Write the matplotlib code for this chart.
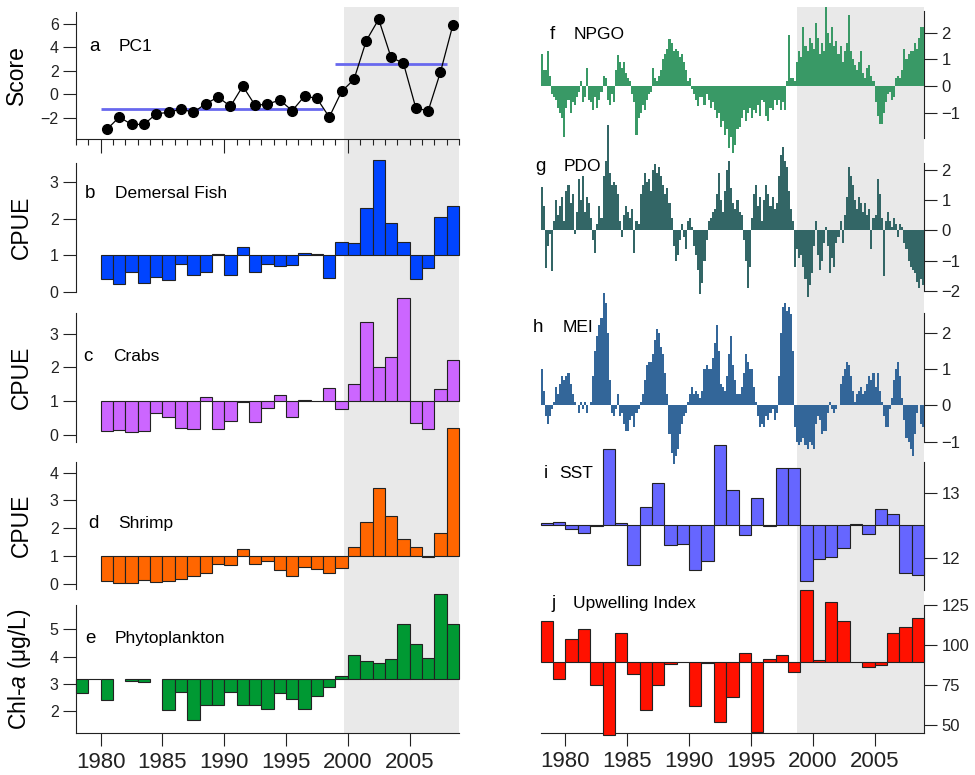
import numpy as np
import matplotlib
import matplotlib.pyplot as plt
import matplotlib.transforms as mtransforms
from matplotlib.patches import Rectangle

plt.rcParams['font.family'] = ['Liberation Sans', 'DejaVu Sans']
plt.rcParams['mathtext.fontset'] = 'custom'
plt.rcParams['mathtext.it'] = 'Liberation Sans:italic'
plt.rcParams['mathtext.rm'] = 'Liberation Sans'

# ---------------- data ----------------
years = list(range(1980, 2009))
pc1 = [-2.96, -1.92, -2.54, -2.54, -1.64, -1.52, -1.24, -1.52, -0.79, -0.23,
       -1.01, 0.70, -0.93, -0.82, -0.48, -1.38, -0.14, -0.34, -1.92, 0.25,
       1.27, 4.56, 6.36, 3.13, 2.65, -1.13, -1.41, 1.89, 5.86]
regime_years = [(1980, 1998), (1999, 2008)]
regime_means = [-1.21, 2.56]

demersal = [0.34, 0.20, 0.54, 0.25, 0.41, 0.33, 0.75, 0.45, 0.55, 1.04,
            0.47, 1.22, 0.53, 0.75, 0.70, 0.72, 1.05, 1.03, 0.37, 1.37,
            1.34, 2.30, 3.61, 1.87, 1.37, 0.35, 0.64, 2.05, 2.35]
crabs = [0.10, 0.13, 0.07, 0.12, 0.63, 0.52, 0.19, 0.16, 1.13, 0.17,
         0.40, 0.98, 0.36, 0.78, 1.19, 0.52, 1.02, 1.01, 1.38, 0.77,
         1.49, 3.35, 2.00, 2.31, 4.05, 0.35, 0.17, 1.35, 2.21]
shrimp = [0.10, 0.05, 0.02, 0.13, 0.08, 0.10, 0.18, 0.28, 0.40, 0.72,
          0.67, 1.25, 0.72, 0.83, 0.51, 0.29, 0.60, 0.54, 0.40, 0.57,
          1.33, 2.22, 3.45, 2.44, 1.60, 1.33, 0.97, 1.82, 5.60]
cpue_base = 1.0

phyto_years = list(range(1978, 2009))
phyto = [2.68, 3.20, 2.41, None, 3.12, 3.07, None, 2.07, 2.70, 1.68,
         2.23, 2.22, 2.70, 2.25, 2.22, 2.10, 2.68, 2.46, 2.08, 2.56,
         2.88, 3.30, 4.08, 3.83, 3.76, 3.90, 5.18, 4.46, 3.94, 6.30, 5.20]
phyto_base = 3.17

env_years = list(range(1978, 2009))
sst = [12.53, 12.56, 12.45, 12.38, 12.49, 13.68, 12.53, 11.88, 12.78, 13.16,
       12.19, 12.21, 11.81, 11.95, 13.75, 13.05, 12.35, 12.93, 12.49, 13.39,
       13.39, 11.64, 11.97, 12.01, 12.15, 12.52, 12.36, 12.75, 12.68, 11.76, 11.73]
sst_base = 12.5
upwelling = [115.0, 78.8, 103.5, 110.2, 74.8, 44.0, 107.3, 81.9, 59.2, 75.2,
             87.9, 89.6, 61.7, 88.8, 51.9, 67.5, 95.2, 45.4, 91.5, 93.5,
             83.1, 134.4, 90.4, 126.7, 115.2, 89.2, 86.0, 87.3, 107.5, 111.0, 116.7]
upw_base = 89.4

# bimonthly climate indices, 1978-2008 (6 values per year)
npgo = [1.2, 0.6, 0.6, 1.3, 0.4, -0.3,      # 1978
        -0.4, -0.5, -0.8, -1.0, -1.2, -1.9,  # 1979
        -0.8, -0.5, -1.0, -0.6, -0.7, -0.4,  # 1980
        -0.2, 0.2, -0.6, -0.4, 0.7, -0.5,    # 1981
        -0.6, -0.9, -0.4, -0.8, -0.5, -0.2,  # 1982
        0.4, 0.3, -0.5, -0.7, -0.3, -0.6,    # 1983
        0.6, 1.15, 0.9, 0.7, 0.9, 0.5,       # 1984
        0.3, 0.2, -0.3, -0.6, -1.8, -1.2,    # 1985
        -1.0, -0.7, -0.9, -0.5, -0.3, -0.2,  # 1986
        0.7, 0.3, 0.2, 0.4, 0.6, 1.0,        # 1987
        1.2, 1.4, 1.75, 1.6, 1.3, 1.4,       # 1988
        1.3, 1.1, 1.2, 0.9, 0.6, 0.2,        # 1989
        0.3, -0.1, -0.3, -0.5, -0.75, -0.4,  # 1990
        -0.4, -0.7, -0.3, -0.5, -0.8, -0.6,  # 1991
        -0.9, -1.2, -1.0, -1.5, -1.3, -1.8,  # 1992
        -1.6, -2.3, -1.9, -2.5, -2.2, -1.6,  # 1993
        -1.5, -1.2, -0.9, -1.3, -1.0, -0.8,  # 1994
        -1.2, -0.9, -1.0, -0.7, -1.1, -0.5,  # 1995
        -0.6, -1.1, -1.3, -0.8, -0.9, -0.5,  # 1996
        -0.7, -0.5, -0.9, -0.6, -0.9, 0.2,   # 1997
        1.9, 0.3, 0.3, 0.2, 0.9, 1.3,        # 1998
        1.1, 2.2, 1.5, 1.3, 1.8, 1.6,        # 1999
        1.4, 2.35, 1.8, 1.2, 1.6, 1.3,       # 2000
        2.95, 2.0, 1.6, 2.2, 1.5, 1.7,       # 2001
        1.2, 1.5, 0.9, 1.3, 1.6, 2.65,       # 2002
        1.3, 1.0, 0.8, 0.6, 0.9, 1.3,        # 2003
        0.5, 0.3, 0.7, 0.8, 0.4, 0.2,        # 2004
        -0.6, -1.1, -1.4, -1.4, -1.0, -0.6,  # 2005
        -0.3, -0.2, -0.5, -0.4, 0.3, 0.4,    # 2006
        0.3, 0.6, 1.4, 1.0, 1.2, 1.3,        # 2007
        1.3, 1.6, 1.4, 1.8, 2.2, 2.2]        # 2008

pdo = [1.45, 0.8, -1.25, -0.5, -0.1, -1.35,  # 1978
       0.3, 1.0, 0.5, 0.8, 1.1, 0.3,         # 1979
       1.3, 1.5, 0.9, 1.2, -0.1, 0.6,        # 1980
       1.7, 1.0, 1.8, 0.6, 1.1, 0.9,         # 1981
       0.4, -0.3, -0.75, 0.2, 0.8, 0.4,      # 1982
       1.8, 2.3, 3.5, 1.9, 1.5, 1.6,         # 1983
       1.5, 1.2, 0.3, -0.2, 0.5, 0.8,        # 1984
       0.6, 0.4, 0.7, -0.75, 0.3, 0.2,       # 1985
       1.2, 1.5, 1.9, 1.6, 1.7, 1.3,         # 1986
       2.0, 2.2, 1.9, 2.1, 1.8, 1.5,         # 1987
       1.2, 1.4, 0.9, 0.4, -0.5, -1.0,       # 1988
       -0.8, -0.3, 0.2, -0.2, -0.6, 0.3,     # 1989
       0.4, 0.1, -0.5, -0.8, -1.3, -2.1,     # 1990
       -1.75, -1.0, -0.3, 0.3, 0.4, 0.6,     # 1991
       0.7, 1.2, 1.9, 1.0, 0.6, 1.3,         # 1992
       2.0, 2.3, 1.4, 0.9, 0.7, 1.0,         # 1993
       0.6, 0.5, -0.3, -1.0, -1.9, -1.2,     # 1994
       0.4, 1.2, 1.5, 0.8, 1.1, 0.3,         # 1995
       1.0, 1.5, 1.2, 0.8, 1.1, 0.7,         # 1996
       0.9, 1.8, 2.5, 2.75, 2.3, 2.1,        # 1997
       1.3, 0.7, 0.3, -1.2, -0.6, -0.9,      # 1998
       -0.8, -1.2, -1.6, -2.2, -1.8, -1.4,   # 1999
       -0.5, 0.3, -0.8, -1.3, -1.0, -0.4,    # 2000
       0.1, -0.5, -1.4, -0.9, -1.2, -0.4,    # 2001
       -0.2, 0.3, -0.4, 0.5, 1.1, 2.1,       # 2002
       1.8, 1.5, 1.0, 0.7, 1.1, 0.9,         # 2003
       0.6, 0.9, 0.5, 0.7, -0.6, 0.4,        # 2004
       0.5, 1.7, 1.2, 0.4, -1.5, 0.3,        # 2005
       0.6, 0.3, 0.1, 0.4, 0.2, -0.2,        # 2006
       0.2, 0.1, -0.4, -0.6, -1.0, -1.2,     # 2007
       -1.3, -1.4, -1.7, -1.9, -1.6, -1.8]   # 2008

mei = [1.0, 0.4, -0.3, -0.5, -0.3, -0.1,    # 1978
       0.1, 0.5, 0.3, 0.6, 0.8, 0.7,        # 1979
       0.8, 0.9, 0.6, 0.3, 0.1, 0.0,        # 1980
       -0.2, 0.1, -0.1, 0.1, -0.2, 0.0,     # 1981
       0.1, 0.8, 1.5, 1.9, 2.2, 2.4,        # 1982
       3.1, 2.8, 2.0, 0.7, -0.2, -0.3,      # 1983
       -0.1, 0.3, -0.3, -0.2, -0.5, -0.7,   # 1984
       -0.7, -0.4, -0.3, -0.6, -0.2, -0.1,  # 1985
       0.1, 0.3, 0.7, 1.1, 1.2, 1.2,        # 1986
       1.4, 1.8, 2.1, 2.0, 1.6, 1.4,        # 1987
       0.9, 0.3, -0.8, -1.3, -1.6, -1.4,    # 1988
       -1.2, -0.8, -0.5, -0.3, -0.2, 0.1,   # 1989
       0.3, 0.5, 0.3, 0.4, 0.3, 0.2,        # 1990
       0.4, 1.0, 1.1, 1.0, 1.0, 1.3,        # 1991
       1.7, 2.2, 1.5, 0.6, 0.5, 0.4,        # 1992
       0.8, 1.4, 1.9, 1.1, 0.7, 0.3,        # 1993
       0.3, 0.5, 0.9, 1.4, 1.2, 1.0,        # 1994
       1.0, 0.5, 0.1, -0.3, -0.6, -0.5,     # 1995
       -0.6, -0.3, -0.4, -0.2, -0.1, -0.4,  # 1996
       -0.2, 0.8, 2.0, 2.7, 2.8, 2.6,       # 1997
       2.7, 2.5, 1.5, -0.6, -1.0, -1.1,     # 1998
       -1.0, -0.9, -1.1, -1.2, -1.0, -1.1,  # 1999
       -1.2, -0.5, -0.3, -0.4, -0.8, -0.7,  # 2000
       -0.7, -0.2, 0.1, -0.1, -0.2, -0.1,   # 2001
       0.0, 0.6, 0.8, 1.0, 1.2, 1.1,        # 2002
       0.8, 0.4, 0.1, 0.3, 0.4, 0.5,        # 2003
       0.3, 0.4, 0.6, 0.8, 0.7, 0.9,        # 2004
       0.5, 0.9, 0.4, 0.1, -0.3, -0.6,      # 2005
       -0.6, -0.1, 0.2, 0.7, 1.0, 1.2,      # 2006
       0.8, 0.2, -0.4, -0.9, -1.0, -1.2,    # 2007
       -1.4, -0.8, -0.2, 0.0, -0.5, -0.6]   # 2008

# ---------------- style ----------------
W, H = 975, 775
ink = '#222222'
shade_col = '#e9e9e9'
fig = plt.figure(figsize=(W / 100, H / 100), dpi=100)


def add_axes(x0, x1, ytop, ybot):
    ax = fig.add_axes([x0 / W, 1 - ybot / H, (x1 - x0) / W, (ybot - ytop) / H])
    ax.set_facecolor('none')
    ax.set_xlim(1978, 2009)
    for s in ax.spines.values():
        s.set_color(ink)
        s.set_linewidth(0.8)
    ax.tick_params(colors=ink, width=0.8, length=9.5)
    return ax


def left_style(ax, ylabel=None, ticks=None, label_x=-0.112):
    ax.spines['top'].set_visible(False)
    ax.spines['right'].set_visible(False)
    ax.tick_params(axis='y', labelsize=11.5, pad=3)
    if ticks is not None:
        ax.set_yticks(ticks)
    if ylabel:
        ax.set_ylabel(ylabel, fontsize=16.5)
        ax.yaxis.set_label_coords(label_x, 0.5)


def right_style(ax, ticks):
    ax.spines['top'].set_visible(False)
    ax.spines['left'].set_visible(False)
    ax.yaxis.tick_right()
    ax.tick_params(axis='y', labelsize=12, pad=3)
    ax.set_yticks(ticks)


def hide_x(ax):
    ax.spines['bottom'].set_visible(False)
    ax.tick_params(axis='x', bottom=False, labelbottom=False)


def panel_label(ax, letter, name, xl, xn, y):
    ax.text(xl, y, letter, transform=ax.transAxes, fontsize=13.5, va='center', ha='left')
    ax.text(xn, y, name, transform=ax.transAxes, fontsize=12.5, va='center', ha='left')


def anomaly_bars(ax, xs, vals, base, color):
    xs2 = [x for x, v in zip(xs, vals) if v is not None]
    v2 = np.array([v for v in vals if v is not None], dtype=float)
    ax.bar(xs2, v2 - base, bottom=base, width=1, align='edge', color=color,
           edgecolor=ink, linewidth=0.8, clip_on=False, zorder=3)


def index_bars(ax, vals, color):
    t = 1978 + np.arange(len(vals)) / 6
    ax.bar(t, vals, width=1 / 6, align='edge', color=color, linewidth=0,
           clip_on=False, zorder=3)


# ---------------- left column ----------------
ax_a = add_axes(76, 459, 11.7, 139.3)
ax_b = add_axes(76, 459, 163.3, 291.7)
ax_c = add_axes(76, 459, 313.3, 441.7)
ax_d = add_axes(76, 459, 461.7, 589.3)
ax_e = add_axes(76, 459, 605, 733.3)

# a: PC1
yr_mid = np.array(years) + 0.5
ax_a.plot(yr_mid, pc1, color='black', linewidth=0.9, marker='o', markersize=7,
          markerfacecolor='black', zorder=4, clip_on=False)
for (y0, y1), m in zip(regime_years, regime_means):
    ax_a.hlines(m, y0, y1, color='#6868ee', linewidth=2.0, zorder=3)
ax_a.set_ylim(-3.8, 7.0)
left_style(ax_a, 'Score', [-2, 0, 2, 4, 6], label_x=-0.125)
ax_a.set_xticks([1980, 1990, 2000])
ax_a.set_xticks(range(1978, 2010), minor=True)
ax_a.tick_params(axis='x', which='major', length=10, labelbottom=False)
ax_a.tick_params(axis='x', which='minor', length=4.5, width=0.8, colors=ink)
panel_label(ax_a, 'a', 'PC1', 0.034, 0.11, 0.726)

# b: demersal fish
anomaly_bars(ax_b, years, demersal, cpue_base, '#0044ff')
ax_b.set_ylim(0, 3.51)
left_style(ax_b, 'CPUE', [0, 1, 2, 3])
hide_x(ax_b)
panel_label(ax_b, 'b', 'Demersal Fish', 0.0235, 0.102, 0.766)

# c: crabs
anomaly_bars(ax_c, years, crabs, cpue_base, '#cc66ff')
ax_c.set_ylim(-0.21, 3.6)
left_style(ax_c, 'CPUE', [0, 1, 2, 3])
hide_x(ax_c)
panel_label(ax_c, 'c', 'Crabs', 0.019, 0.096, 0.662)

# d: shrimp
anomaly_bars(ax_d, years, shrimp, cpue_base, '#ff6600')
ax_d.set_ylim(-0.19, 4.39)
left_style(ax_d, 'CPUE', [0, 1, 2, 3, 4])
hide_x(ax_d)
panel_label(ax_d, 'd', 'Shrimp', 0.032, 0.11, 0.512)

# e: phytoplankton
anomaly_bars(ax_e, phyto_years, phyto, phyto_base, '#009933')
ax_e.set_ylim(1.2, 5.89)
left_style(ax_e, 'Chl-$a$ (\u03bcg/L)', [2, 3, 4, 5])
ax_e.set_xticks(range(1980, 2006, 5))
ax_e.tick_params(axis='x', labelsize=16, pad=4)
panel_label(ax_e, 'e', 'Phytoplankton', 0.0235, 0.1, 0.74)

# ---------------- right column ----------------
ax_f = add_axes(540.7, 924, 10.7, 138.3)
ax_g = add_axes(540.7, 924, 163.3, 291)
ax_h = add_axes(540.7, 924, 313.3, 441.7)
ax_i = add_axes(540.7, 924, 461.7, 589.7)
ax_j = add_axes(540.7, 924, 604.7, 732.7)

index_bars(ax_f, npgo, '#399966')
ax_f.set_ylim(-1.94, 2.82)
right_style(ax_f, [-1, 0, 1, 2])
hide_x(ax_f)
panel_label(ax_f, 'f', 'NPGO', 0.024, 0.085, 0.817)

index_bars(ax_g, pdo, '#336666')
ax_g.set_ylim(-2.0, 2.22)
right_style(ax_g, [-2, -1, 0, 1, 2])
hide_x(ax_g)
panel_label(ax_g, 'g', 'PDO', -0.015, 0.061, 0.973)

index_bars(ax_h, mei, '#336699')
ax_h.set_ylim(-1.0, 2.53)
right_style(ax_h, [-1, 0, 1, 2])
hide_x(ax_h)
panel_label(ax_h, 'h', 'MEI', -0.022, 0.057, 0.888)

anomaly_bars(ax_i, env_years, sst, sst_base, '#6666ff')
ax_i.set_ylim(11.5, 13.49)
right_style(ax_i, [12, 13])
hide_x(ax_i)
panel_label(ax_i, 'i', 'SST', 0.007, 0.049, 0.909)

anomaly_bars(ax_j, env_years, upwelling, upw_base, '#ff1100')
ax_j.set_ylim(45.2, 125.2)
right_style(ax_j, [50, 75, 100, 125])
ax_j.set_xticks(range(1980, 2006, 5))
ax_j.tick_params(axis='x', labelsize=16, pad=4)
panel_label(ax_j, 'j', 'Upwelling Index', 0.029, 0.085, 1.01)

# ---------------- regime shading ----------------
for ax_ref, x0, bot_ax in [(ax_e, 1999.7, ax_e), (ax_j, 1998.73, ax_j)]:
    trans = mtransforms.blended_transform_factory(ax_ref.transData, fig.transFigure)
    y_bot = bot_ax.get_position().y0
    y_top = 1 - 6.5 / H
    fig.patches.append(Rectangle((x0, y_bot), 2009 - x0, y_top - y_bot, transform=trans,
                                 facecolor=shade_col, edgecolor='none', zorder=-1))

fig.savefig('out.png', dpi=100)
